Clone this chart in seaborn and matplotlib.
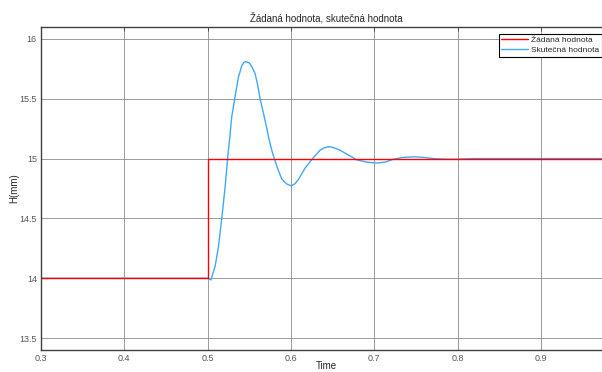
import numpy as np
import pandas as pd
import matplotlib
matplotlib.use("Agg")
import matplotlib.pyplot as plt
from matplotlib.ticker import FormatStrFormatter
import seaborn as sns

t_set = [0.30, 0.50, 0.50, 1.00]
h_set = [14.0, 14.0, 15.0, 15.0]

t_act = [0.300, 0.500, 0.504, 0.509, 0.513, 0.517, 0.521, 0.524, 0.5265,
         0.529, 0.533, 0.537, 0.541, 0.5435, 0.546, 0.550, 0.553, 0.557,
         0.560, 0.563, 0.569, 0.5735, 0.577, 0.580, 0.585, 0.589, 0.5945,
         0.600, 0.605, 0.609, 0.617, 0.626, 0.635, 0.640, 0.646, 0.652,
         0.659, 0.669, 0.679, 0.691, 0.703, 0.713, 0.723, 0.735, 0.747,
         0.759, 0.771, 0.785, 0.800, 0.820, 1.000]
h_act = [14.00, 14.00, 13.986, 14.10, 14.26, 14.50, 14.76, 15.00, 15.17,
         15.35, 15.52, 15.68, 15.775, 15.805, 15.81, 15.80, 15.77, 15.71,
         15.62, 15.50, 15.32, 15.17, 15.07, 15.00, 14.90, 14.83, 14.79,
         14.772, 14.79, 14.825, 14.92, 15.00, 15.07, 15.09, 15.10, 15.09,
         15.07, 15.03, 14.99, 14.97, 14.963, 14.97, 14.995, 15.01, 15.015,
         15.01, 15.00, 14.995, 14.995, 15.00, 15.00]

label_set = "Žádaná hodnota"
label_act = "Skutečná hodnota"

df_set = pd.DataFrame({"t": t_set, "h": h_set})
df_act = pd.DataFrame({"t": t_act, "h": h_act})

sns.set_style("white")
plt.rcParams["font.family"] = ["Liberation Sans", "DejaVu Sans"]

fig = plt.figure(figsize=(6.02, 3.72), dpi=100)
ax = fig.add_axes([41 / 602, 22 / 372, 570 / 602, 323 / 372])

# blue first so the red step sits on top of it
sns.lineplot(data=df_act, x="t", y="h", ax=ax, color="#3fa9f5", lw=1.0,
             sort=False, estimator=None, label=label_act)
sns.lineplot(data=df_set, x="t", y="h", ax=ax, color="#ff0000", lw=1.0,
             sort=False, estimator=None, label=label_set)

ax.set_xlim(0.3, 0.3 + 570 / 833)
ax.set_ylim(13.4, 16.1)
ax.set_xticks(np.arange(0.3, 0.95, 0.1))
ax.set_yticks(np.arange(13.5, 16.01, 0.5))
ax.xaxis.set_major_formatter(FormatStrFormatter("%g"))
ax.yaxis.set_major_formatter(FormatStrFormatter("%g"))

ax.grid(True, color="#8c8c8c", lw=0.6)
ax.set_axisbelow(True)
for s in ax.spines.values():
    s.set_color("#404040")
    s.set_linewidth(1.0)
ax.tick_params(direction="in", length=3, width=0.6, color="#404040",
               labelsize=6.5, labelcolor="#555555", top=True, right=True,
               pad=3)

ax.set_title("Žádaná hodnota, skutečná hodnota", fontsize=7, pad=4)
ax.set_xlabel("Time", fontsize=7, labelpad=-1.5)
ax.set_ylabel("H(mm)", fontsize=7, labelpad=0)

handles, labels = ax.get_legend_handles_labels()
ax.legend(handles[::-1], labels[::-1], loc="upper right",
          bbox_to_anchor=(1.0, 1 - 34 / 372),
          bbox_transform=fig.transFigure, fontsize=6, frameon=True,
          fancybox=False, edgecolor="black", framealpha=1,
          borderpad=0.3, labelspacing=0.25, handlelength=3.2,
          handletextpad=0.4, borderaxespad=0)
ax.get_legend().get_frame().set_linewidth(0.8)

fig.savefig("out.png", dpi=100)
